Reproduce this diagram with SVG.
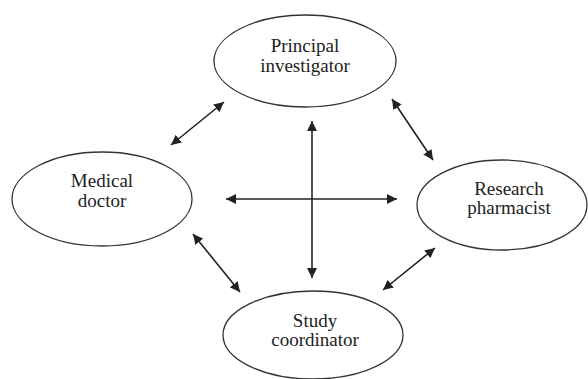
<svg xmlns="http://www.w3.org/2000/svg" width="588" height="379" viewBox="0 0 588 379">
<defs>
<marker id="ah" viewBox="0 0 10 10" refX="10" refY="5" markerWidth="10" markerHeight="10" markerUnits="userSpaceOnUse" orient="auto-start-reverse">
<path d="M0,0 L10,5 L0,10 Z" fill="#222"/>
</marker>
<style>
.node ellipse{fill:#fff;stroke:#333;stroke-width:1.3}
.node text{font-family:"Liberation Serif","Times New Roman",serif;font-size:19px;fill:#222;text-anchor:middle}
#connectors line{stroke:#222;stroke-width:1.6;marker-start:url(#ah);marker-end:url(#ah)}
</style>
</defs>
<rect width="588" height="379" fill="#fff"/>
<g id="pi" class="node">
<ellipse cx="305" cy="61" rx="91" ry="46"/>
<text x="305" y="52">Principal</text>
<text x="305" y="72">investigator</text>
</g>
<g id="md" class="node">
<ellipse cx="102" cy="199" rx="90" ry="47"/>
<text x="102" y="187">Medical</text>
<text x="102" y="207">doctor</text>
</g>
<g id="rp" class="node">
<ellipse cx="502" cy="205" rx="85" ry="45"/>
<text x="509" y="195">Research</text>
<text x="509" y="214">pharmacist</text>
</g>
<g id="sc" class="node">
<ellipse cx="313" cy="335" rx="90" ry="44"/>
<text x="315" y="327">Study</text>
<text x="315" y="346">coordinator</text>
</g>
<g id="connectors">
<line x1="312" y1="121" x2="312" y2="278"/>
<line x1="226" y1="199" x2="397" y2="199"/>
<line x1="171" y1="145" x2="224" y2="102"/>
<line x1="392" y1="99" x2="433" y2="160"/>
<line x1="193" y1="234" x2="240" y2="292"/>
<line x1="383" y1="290" x2="435" y2="248"/>
</g>
</svg>
